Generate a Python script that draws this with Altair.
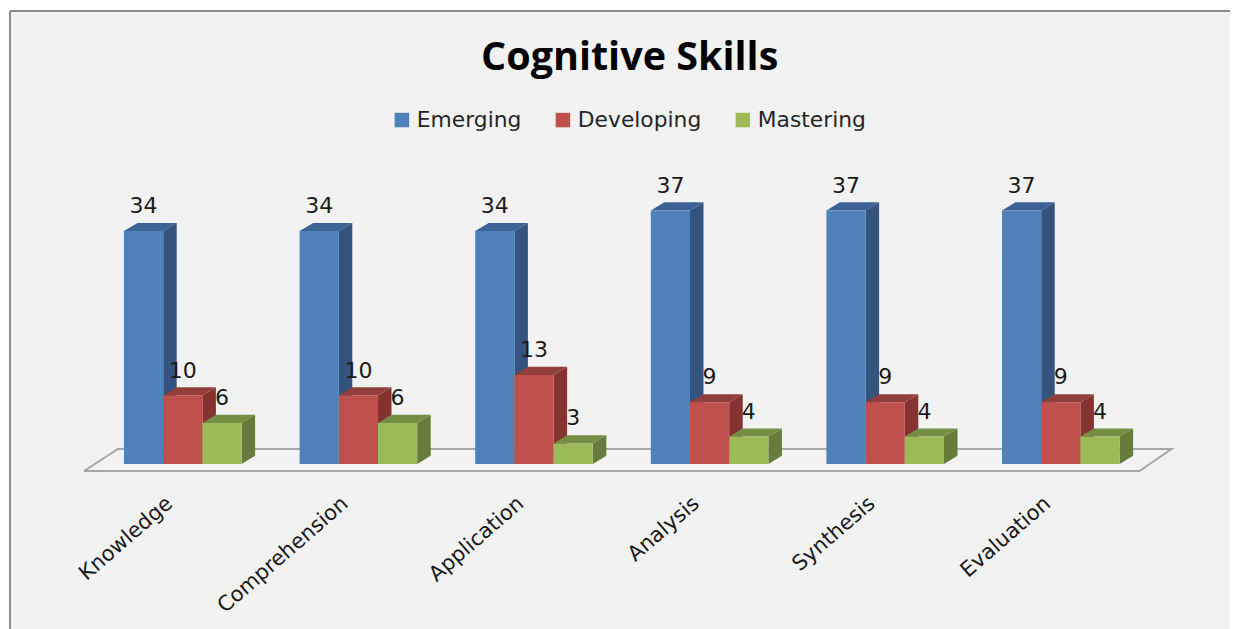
import altair as alt
import pandas as pd

categories = ["Knowledge", "Comprehension", "Application", "Analysis", "Synthesis", "Evaluation"]
series = ["Emerging", "Developing", "Mastering"]
emerging = [34, 34, 34, 37, 37, 37]
developing = [10, 10, 13, 9, 9, 9]
mastering = [6, 6, 3, 4, 4, 4]
values = {"Emerging": emerging, "Developing": developing, "Mastering": mastering}
front_colors = ["#4f81bd", "#c0504d", "#9bbb59"]
side_colors = ["#34547f", "#843331", "#667c3b"]
top_colors = ["#3c6396", "#923f3c", "#748f43"]

FONT = "DejaVu Sans"
PITCH = 175.6          # px per category
UNIT = 6.85            # px per value
W, H = 1220, 618
BAR = 39.2 / PITCH
DX = 13.5 / PITCH
DY = 8.2 / UNIT
X0 = -114 / PITCH
Y_TOP = (464 - 11) / UNIT
Y_BOT = (464 - 629) / UNIT

x_scale = alt.Scale(domain=[X0, X0 + W / PITCH], nice=False, zero=False)
y_scale = alt.Scale(domain=[Y_BOT, Y_TOP], nice=False, zero=False)
X = lambda f: alt.X(f, type="quantitative", scale=x_scale, axis=None)
Y = lambda f: alt.Y(f, type="quantitative", scale=y_scale, axis=None)

layers = []

# floor of the 3-D plot
fx = [-40 / PITCH, 1015.5 / PITCH, 1047.5 / PITCH, -6 / PITCH, -40 / PITCH]
fy = [-7 / UNIT, -7 / UNIT, 15 / UNIT, 15 / UNIT, -7 / UNIT]
floor = pd.DataFrame({"x": fx, "y": fy, "o": range(5)})
layers.append(alt.Chart(floor).mark_line(color="#a6a6a6", strokeWidth=2).encode(
    x=X("x"), y=Y("y"), order="o:Q"))

for s_i, name in enumerate(series):
    front, side, top = [], [], []
    for c_i, cat in enumerate(categories):
        v = values[name][c_i]
        l = c_i + s_i * BAR
        r = l + BAR
        front.append({"cat": cat, "series": name, "l": l, "r": r, "v": v, "base": 0})
        side += [
            {"cat": cat, "x": r, "y": v, "y2": 0},
            {"cat": cat, "x": r + DX, "y": v + DY, "y2": DY},
        ]
        top += [
            {"cat": cat, "x": l, "y": v, "y2": v},
            {"cat": cat, "x": l + DX, "y": v + DY, "y2": v},
            {"cat": cat, "x": r, "y": v + DY, "y2": v},
            {"cat": cat, "x": r + DX, "y": v + DY, "y2": v + DY},
        ]
    layers.append(alt.Chart(pd.DataFrame(side)).mark_area(color=side_colors[s_i]).encode(
        x=X("x"), y=Y("y"), y2="y2:Q", detail="cat:N"))
    layers.append(alt.Chart(pd.DataFrame(top)).mark_area(color=top_colors[s_i]).encode(
        x=X("x"), y=Y("y"), y2="y2:Q", detail="cat:N"))
    layers.append(alt.Chart(pd.DataFrame(front)).mark_rect().encode(
        x=X("l"), x2="r:Q", y=Y("v"), y2="base:Q",
        color=alt.Color("series:N", scale=alt.Scale(domain=series, range=front_colors),
                        legend=alt.Legend(
                            title=None, orient="none", direction="horizontal",
                            legendX=381, legendY=98, columns=3, columnPadding=30,
                            symbolType="square", symbolSize=210, symbolStrokeWidth=0,
                            symbolOpacity=1, labelFont=FONT, labelFontSize=21.8,
                            labelColor="#262626", labelOffset=4))))

# value labels
labels = []
for s_i, name in enumerate(series):
    for c_i in range(len(categories)):
        labels.append({"x": c_i + (s_i + 0.5) * BAR, "v": values[name][c_i]})
layers.append(alt.Chart(pd.DataFrame(labels)).mark_text(
    font=FONT, fontSize=22, color="#1a1a1a", baseline="alphabetic", dy=-18
).encode(x=X("x"), y=Y("v"), text="v:Q"))

# category labels
cat_df = pd.DataFrame({"cat": categories,
                       "x": [i + 1.5 * BAR - 13 / PITCH for i in range(len(categories))],
                       "y": [-37 / UNIT] * len(categories)})
layers.append(alt.Chart(cat_df).mark_text(
    font=FONT, fontSize=21, color="#1a1a1a", angle=319, align="right", baseline="middle"
).encode(x=X("x"), y=Y("y"), text="cat:N"))

# frame: top and left edges
layers.append(alt.Chart(pd.DataFrame({"a": [0]})).mark_rule(color="#8c8c8c", strokeWidth=2).encode(
    x=alt.value(0), x2=alt.value(W), y=alt.value(0)))
layers.append(alt.Chart(pd.DataFrame({"a": [0]})).mark_rule(color="#8c8c8c", strokeWidth=2).encode(
    y=alt.value(0), y2=alt.value(H), x=alt.value(0)))

chart = alt.layer(*layers).properties(
    width=W, height=H,
    padding={"left": 2, "top": 3, "right": 0, "bottom": 0},
    autosize=alt.AutoSizeParams(type="none"),
    background="transparent",
    title=alt.TitleParams("Cognitive Skills", font="Open Sans", fontSize=39.5, fontWeight="bold",
                          color="#000000", anchor="start", offset=-68, dx=472),
).configure_view(fill="#f2f2f2", stroke=None)

chart.save("out.html", embed_options={"renderer": "svg", "actions": False})
